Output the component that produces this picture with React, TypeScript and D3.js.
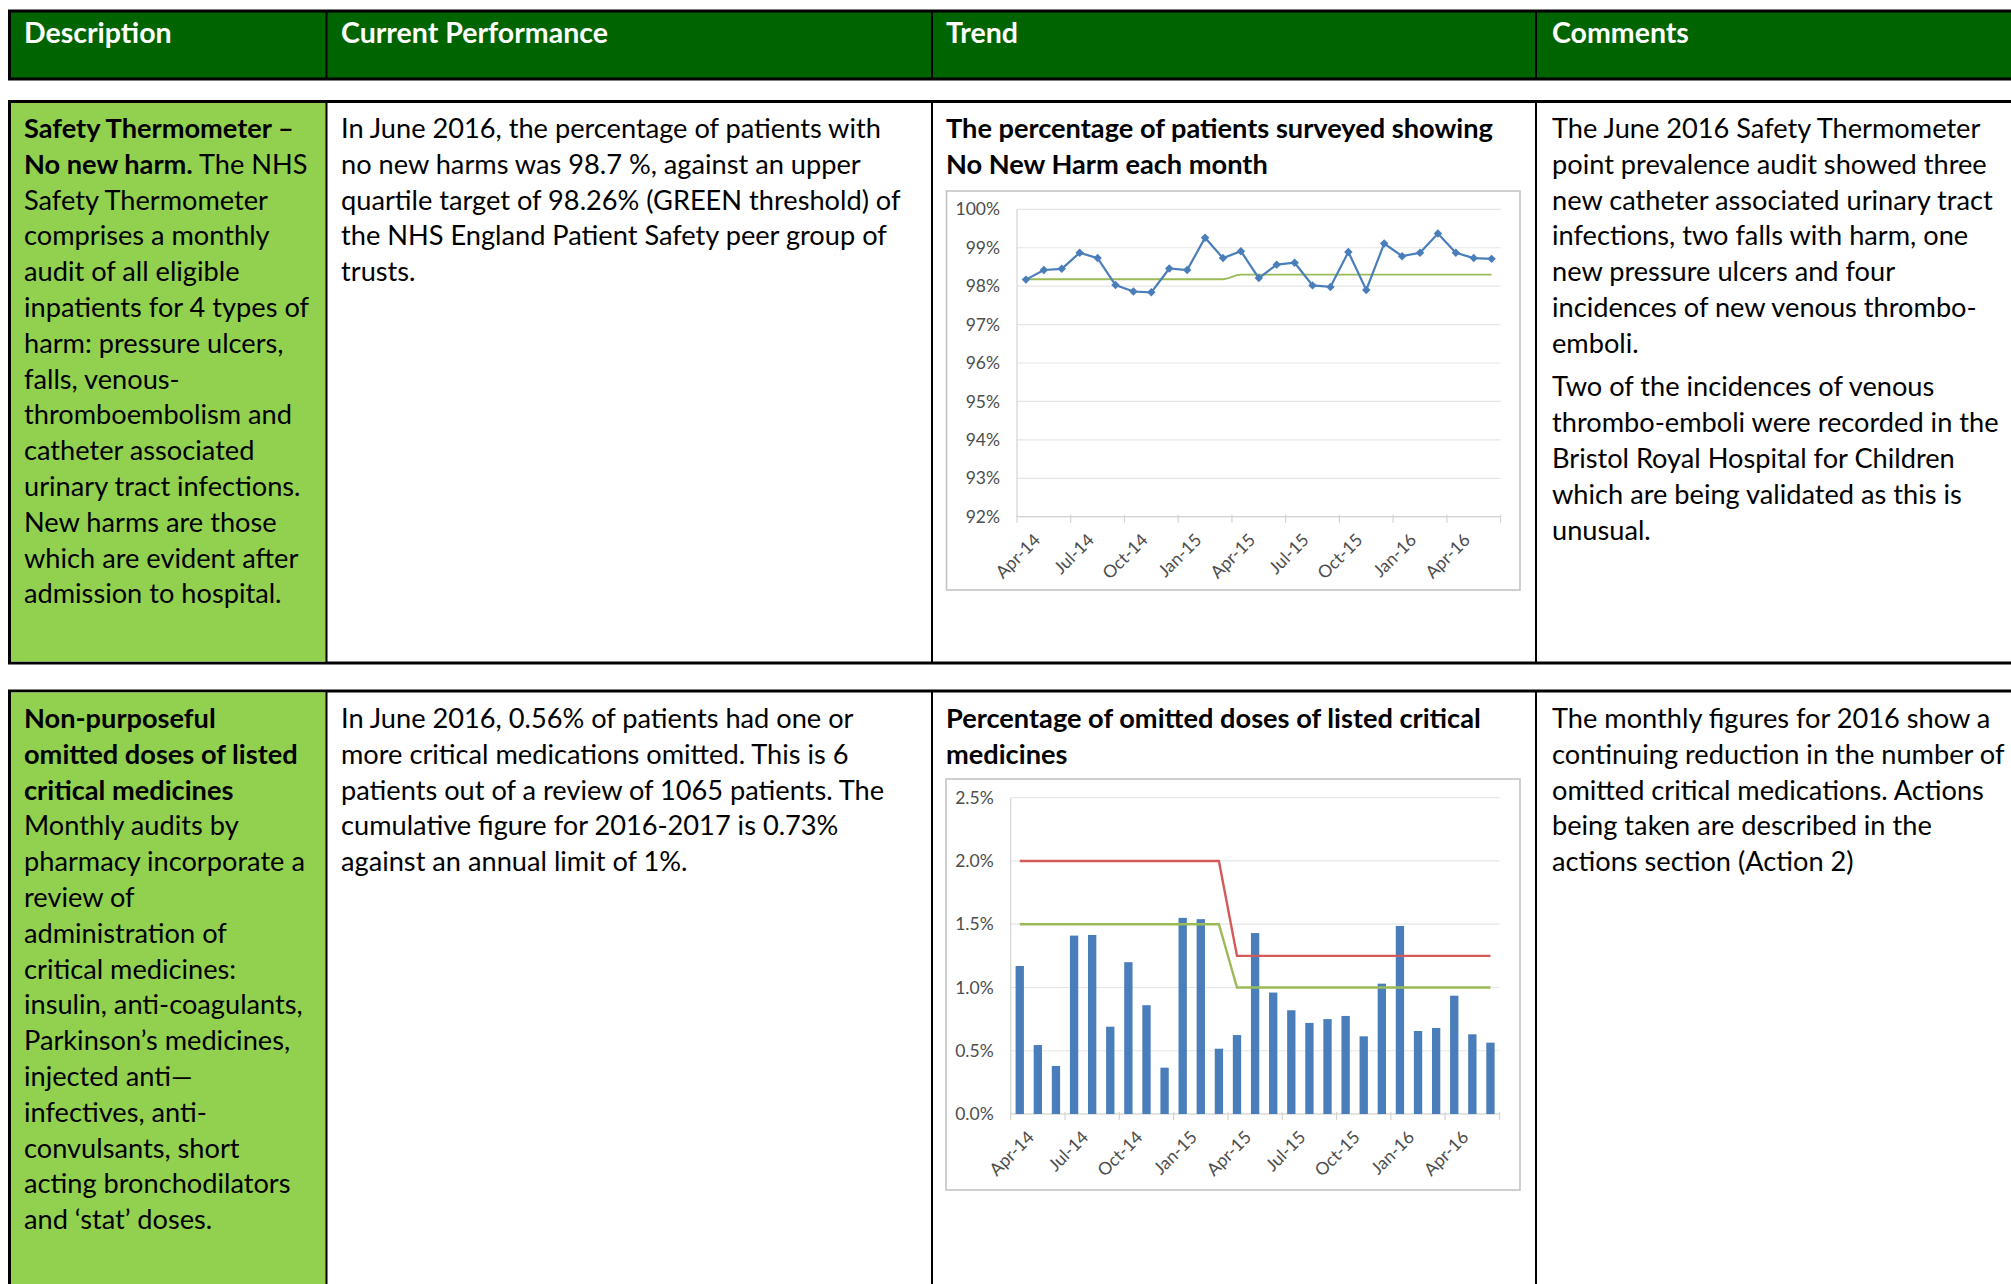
import React, { useRef, useEffect } from "react";
import { select, scaleLinear, scaleBand, line, symbol, symbolSquare, curveMonotoneX } from "d3";

// months shown on both trend charts
const months = [
  "Apr-14", "May-14", "Jun-14", "Jul-14", "Aug-14", "Sep-14", "Oct-14", "Nov-14", "Dec-14",
  "Jan-15", "Feb-15", "Mar-15", "Apr-15", "May-15", "Jun-15", "Jul-15", "Aug-15", "Sep-15",
  "Oct-15", "Nov-15", "Dec-15", "Jan-16", "Feb-16", "Mar-16", "Apr-16", "May-16", "Jun-16"
];
const tickMonths = ["Apr-14", "Jul-14", "Oct-14", "Jan-15", "Apr-15", "Jul-15", "Oct-15", "Jan-16", "Apr-16"];

// % of patients with no new harm
const noNewHarm = [
  98.17, 98.42, 98.45, 98.87, 98.73, 98.03, 97.86, 97.84, 98.46, 98.42, 99.26, 98.73, 98.91,
  98.21, 98.56, 98.61, 98.02, 97.98, 98.89, 97.9, 99.11, 98.78, 98.87, 99.37, 98.87, 98.73, 98.71
];
const noNewHarmTarget = [
  98.18, 98.18, 98.18, 98.18, 98.18, 98.18, 98.18, 98.18, 98.18, 98.18, 98.18, 98.18, 98.3,
  98.3, 98.3, 98.3, 98.3, 98.3, 98.3, 98.3, 98.3, 98.3, 98.3, 98.3, 98.3, 98.3, 98.3
];
const harmTicks = [92, 93, 94, 95, 96, 97, 98, 99, 100];

// % omitted doses of critical medicines
const omittedDoses = [
  1.17, 0.545, 0.38, 1.41, 1.415, 0.69, 1.2, 0.86, 0.366, 1.55, 1.54, 0.516, 0.624,
  1.43, 0.96, 0.82, 0.72, 0.75, 0.775, 0.614, 1.03, 1.486, 0.656, 0.68, 0.935, 0.63, 0.564
];
const omittedRed = [
  2, 2, 2, 2, 2, 2, 2, 2, 2, 2, 2, 2, 1.25,
  1.25, 1.25, 1.25, 1.25, 1.25, 1.25, 1.25, 1.25, 1.25, 1.25, 1.25, 1.25, 1.25, 1.25
];
const omittedGreen = [
  1.5, 1.5, 1.5, 1.5, 1.5, 1.5, 1.5, 1.5, 1.5, 1.5, 1.5, 1.5, 1,
  1, 1, 1, 1, 1, 1, 1, 1, 1, 1, 1, 1, 1, 1
];
const omittedTicks = [0, 0.5, 1, 1.5, 2, 2.5];

const headers = ["Description", "Current Performance", "Trend", "Comments"];

// text lines: [text, bold]
type Seg = [string, boolean];
const desc1: Seg[][] = [
  [["Safety Thermometer –", true]],
  [["No new harm.", true], [" The NHS", false]],
  [["Safety Thermometer", false]],
  [["comprises a monthly", false]],
  [["audit of all eligible", false]],
  [["inpatients for 4 types of", false]],
  [["harm: pressure ulcers,", false]],
  [["falls, venous-", false]],
  [["thromboembolism and", false]],
  [["catheter associated", false]],
  [["urinary tract infections.", false]],
  [["New harms are those", false]],
  [["which are evident after", false]],
  [["admission to hospital.", false]]
];
const perf1 = [
  "In June 2016, the percentage of patients with",
  "no new harms was 98.7 %, against an upper",
  "quartile target of 98.26% (GREEN threshold) of",
  "the NHS England Patient Safety peer group of",
  "trusts."
];
const trend1 = ["The percentage of patients surveyed showing", "No New Harm each month"];
const comment1a = [
  "The June 2016 Safety Thermometer",
  "point prevalence audit showed three",
  "new catheter associated urinary tract",
  "infections, two falls with harm, one",
  "new pressure ulcers and four",
  "incidences of new venous thrombo-",
  "emboli."
];
const comment1b = [
  "Two of the incidences of venous",
  "thrombo-emboli were recorded in the",
  "Bristol Royal Hospital for Children",
  "which are being validated as this is",
  "unusual."
];
const desc2: Seg[][] = [
  [["Non-purposeful", true]],
  [["omitted doses of listed", true]],
  [["critical medicines", true]],
  [["Monthly audits by", false]],
  [["pharmacy incorporate a", false]],
  [["review of", false]],
  [["administration of", false]],
  [["critical medicines:", false]],
  [["insulin, anti-coagulants,", false]],
  [["Parkinson’s medicines,", false]],
  [["injected anti—", false]],
  [["infectives, anti-", false]],
  [["convulsants, short", false]],
  [["acting bronchodilators", false]],
  [["and ‘stat’ doses.", false]]
];
const perf2 = [
  "In June 2016, 0.56% of patients had one or",
  "more critical medications omitted. This is 6",
  "patients out of a review of 1065 patients. The",
  "cumulative figure for 2016-2017 is 0.73%",
  "against an annual limit of 1%."
];
const trend2 = ["Percentage of omitted doses of listed critical", "medicines"];
const comment2 = [
  "The monthly figures for 2016 show a",
  "continuing reduction in the number of",
  "omitted critical medications. Actions",
  "being taken are described in the",
  "actions section (Action 2)"
];

const FONT = "Lato, 'Open Sans', sans-serif";
const FS = 27.2;
const LH = 35.8;
const AXIS_FS = 17.5;
const colLines = [326.5, 932, 1536];
const textX = [24, 341, 946, 1552];

const Lines = ({ x, y, lines, bold = false }: { x: number; y: number; lines: (string | Seg[])[]; bold?: boolean }) => (
  <text x={x} y={y} fontFamily={FONT} fontSize={FS} fill="#000">
    {lines.map((ln, i) => (
      <tspan key={i} x={x} y={y + i * LH}>
        {typeof ln === "string" ? (
          <tspan fontWeight={bold ? "bold" : "normal"}>{ln}</tspan>
        ) : (
          ln.map(([t, b], j) => (
            <tspan key={j} fontWeight={b ? "bold" : "normal"}>{t}</tspan>
          ))
        )}
      </tspan>
    ))}
  </text>
);

const drawAxisLabels = (g: any, xs: any, axisY: number, yScale: any, ticks: number[], fmt: (d: number) => string, left: number, right: number) => {
  g.selectAll(".grid")
    .data(ticks)
    .join("line")
    .attr("class", "grid")
    .attr("x1", left)
    .attr("x2", right)
    .attr("y1", (d: number) => yScale(d))
    .attr("y2", (d: number) => yScale(d))
    .attr("stroke", "#e6e6e6")
    .attr("stroke-width", 1.2);
  g.append("line")
    .attr("x1", left).attr("x2", left)
    .attr("y1", yScale(ticks[ticks.length - 1])).attr("y2", axisY)
    .attr("stroke", "#d4d4d4").attr("stroke-width", 1.2);
  g.selectAll(".ylab")
    .data(ticks)
    .join("text")
    .attr("class", "ylab")
    .attr("x", left - 17)
    .attr("y", (d: number) => yScale(d))
    .attr("dy", "0.35em")
    .attr("text-anchor", "end")
    .attr("font-family", FONT)
    .attr("font-size", AXIS_FS)
    .attr("fill", "#4d4d4d")
    .text(fmt);
  g.append("line")
    .attr("x1", left).attr("x2", right)
    .attr("y1", axisY).attr("y2", axisY)
    .attr("stroke", "#d4d4d4").attr("stroke-width", 1.2);
  const edges = tickMonths.map((m) => xs(m) - (xs.step() - xs.bandwidth()) / 2).concat([right]);
  g.selectAll(".xtick")
    .data(edges)
    .join("line")
    .attr("class", "xtick")
    .attr("x1", (d: number) => d).attr("x2", (d: number) => d)
    .attr("y1", axisY - 2).attr("y2", axisY + 6)
    .attr("stroke", "#d4d4d4").attr("stroke-width", 1.2);
  g.selectAll(".xlab")
    .data(tickMonths)
    .join("text")
    .attr("class", "xlab")
    .attr("transform", (d: string) => `translate(${xs(d) + xs.bandwidth() / 2 + 8},${axisY + 17}) rotate(-45)`)
    .attr("text-anchor", "end")
    .attr("dy", "0.6em")
    .attr("font-family", FONT)
    .attr("font-size", AXIS_FS)
    .attr("fill", "#4d4d4d")
    .text((d: string) => d);
};

const App = () => {
  const chart1Ref = useRef<SVGGElement>(null);
  const chart2Ref = useRef<SVGGElement>(null);

  useEffect(() => {
    // No New Harm line chart
    const g1 = select(chart1Ref.current);
    g1.selectAll("*").remove();
    const x1 = scaleBand().domain(months).range([1017, 1500.6]);
    const y1 = scaleLinear().domain([92, 100]).range([516.7, 209.3]);
    drawAxisLabels(g1, x1, 516.7, y1, harmTicks, (d) => `${d}%`, 1017, 1500.6);
    const cx1 = (i: number) => (x1(months[i]) as number) + x1.bandwidth() / 2;

    const targetLine = line<number>().x((d, i) => cx1(i)).y((d) => y1(d)).curve(curveMonotoneX);
    g1.append("path")
      .attr("d", targetLine(noNewHarmTarget))
      .attr("fill", "none")
      .attr("stroke", "#9BBB59")
      .attr("stroke-width", 1.8);

    const harmLine = line<number>().x((d, i) => cx1(i)).y((d) => y1(d));
    g1.append("path")
      .attr("d", harmLine(noNewHarm))
      .attr("fill", "none")
      .attr("stroke", "#4A7EBB")
      .attr("stroke-width", 2.2);
    g1.selectAll(".mk")
      .data(noNewHarm)
      .join("path")
      .attr("class", "mk")
      .attr("d", symbol(symbolSquare, 36)())
      .attr("transform", (d, i) => `translate(${cx1(i)},${y1(d)}) rotate(45)`)
      .attr("fill", "#4A7EBB");

    // Omitted doses bar chart
    const g2 = select(chart2Ref.current);
    g2.selectAll("*").remove();
    const x2 = scaleBand().domain(months).range([1010.7, 1499.5]).paddingInner(0.54).paddingOuter(0.27);
    const y2 = scaleLinear().domain([0, 2.5]).range([1114, 797.7]);
    drawAxisLabels(g2, x2, 1114, y2, omittedTicks, (d) => `${d.toFixed(1)}%`, 1010.7, 1499.5);
    const cx2 = (i: number) => (x2(months[i]) as number) + x2.bandwidth() / 2;

    g2.selectAll(".bar")
      .data(omittedDoses)
      .join("rect")
      .attr("class", "bar")
      .attr("x", (d, i) => x2(months[i]) as number)
      .attr("width", x2.bandwidth())
      .attr("y", (d) => y2(d))
      .attr("height", (d) => 1114 - y2(d))
      .attr("fill", "#4A7EBB");

    const limitLine = line<number>().x((d, i) => cx2(i)).y((d) => y2(d));
    g2.append("path")
      .attr("d", limitLine(omittedRed))
      .attr("fill", "none")
      .attr("stroke", "#D25A58")
      .attr("stroke-width", 2.4);
    g2.append("path")
      .attr("d", limitLine(omittedGreen))
      .attr("fill", "none")
      .attr("stroke", "#9BBB59")
      .attr("stroke-width", 2.4);
  }, []);

  return (
    <svg
      width={2011}
      height={1284}
      style={{ position: "absolute", left: 0, top: 0, background: "#fff" }}
    >
      {/* header row */}
      <rect x={9.5} y={11} width={2010} height={68} fill="#006400" stroke="#000" strokeWidth={3} />
      {colLines.map((x) => (
        <line key={"h" + x} x1={x} x2={x} y1={11} y2={79} stroke="#000" strokeWidth={2} />
      ))}
      {headers.map((h, i) => (
        <text key={h} x={textX[i]} y={43} fontFamily={FONT} fontSize={28.5} fontWeight="bold" fill="#fff">
          {h}
        </text>
      ))}

      {/* row 1 */}
      <rect x={9.5} y={101.5} width={2010} height={561.5} fill="#fff" stroke="#000" strokeWidth={3} />
      <rect x={11} y={103} width={315} height={558.5} fill="#92D050" />
      {colLines.map((x) => (
        <line key={"r1" + x} x1={x} x2={x} y1={101.5} y2={663} stroke="#000" strokeWidth={2} />
      ))}
      <Lines x={textX[0]} y={138} lines={desc1} />
      <Lines x={textX[1]} y={138} lines={perf1} />
      <Lines x={textX[2]} y={138} lines={trend1} bold />
      <Lines x={textX[3]} y={138} lines={comment1a} />
      <Lines x={textX[3]} y={138 + 7 * LH + 7.8} lines={comment1b} />
      <rect x={946.5} y={191} width={573.5} height={399} fill="#fff" stroke="#c4c4c4" strokeWidth={1.6} />
      <g ref={chart1Ref} />

      {/* row 2 */}
      <rect x={9.5} y={691} width={2010} height={700} fill="#fff" stroke="#000" strokeWidth={3} />
      <rect x={11} y={692.5} width={315} height={600} fill="#92D050" />
      {colLines.map((x) => (
        <line key={"r2" + x} x1={x} x2={x} y1={691} y2={1290} stroke="#000" strokeWidth={2} />
      ))}
      <Lines x={textX[0]} y={728} lines={desc2} />
      <Lines x={textX[1]} y={728} lines={perf2} />
      <Lines x={textX[2]} y={728} lines={trend2} bold />
      <Lines x={textX[3]} y={728} lines={comment2} />
      <rect x={946} y={779} width={574} height={411} fill="#fff" stroke="#c4c4c4" strokeWidth={1.6} />
      <g ref={chart2Ref} />
    </svg>
  );
};

export default App;
